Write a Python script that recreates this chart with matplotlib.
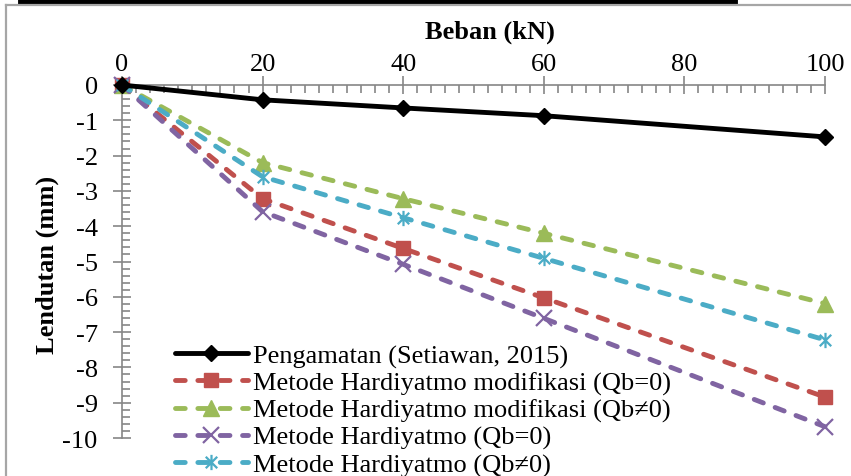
import matplotlib
matplotlib.use("Agg")
import matplotlib.pyplot as plt
from matplotlib.path import Path
from matplotlib.lines import Line2D

plt.rcParams['font.family'] = ['Liberation Serif', 'DejaVu Serif']

# Load (kN) and deflection (mm)
beban = [0, 20, 40, 60, 100]
pengamatan = [0, -0.42, -0.65, -0.87, -1.47]
hardiyatmo_mod_qb0 = [0, -3.22, -4.63, -6.03, -8.84]
hardiyatmo_mod_qbn0 = [0, -2.20, -3.22, -4.20, -6.19]
hardiyatmo_qb0 = [0, -3.59, -5.08, -6.61, -9.68]
hardiyatmo_qbn0 = [0, -2.60, -3.76, -4.91, -7.22]

labels = [
    "Pengamatan (Setiawan, 2015)",
    "Metode Hardiyatmo modifikasi (Qb=0)",
    "Metode Hardiyatmo modifikasi (Qb\u22600)",
    "Metode Hardiyatmo (Qb=0)",
    "Metode Hardiyatmo (Qb\u22600)",
]

x_ticks = [0, 20, 40, 60, 80, 100]
y_ticks = list(range(0, -11, -1))

W, H = 851, 477
FS = 19
fig = plt.figure(figsize=(W / 100, H / 100), dpi=100)

# asterisk marker: vertical bar crossed by an X
star = Path([(0, -1), (0, 1), (-0.75, -0.75), (0.75, 0.75), (-0.75, 0.75), (0.75, -0.75)],
            [Path.MOVETO, Path.LINETO, Path.MOVETO, Path.LINETO, Path.MOVETO, Path.LINETO])

left, right, top, bottom = 122, 825, 86, 439
ax = fig.add_axes([left / W, 1 - bottom / H, (right - left) / W, (bottom - top) / H])
ax.set_xlim(0, 100)
ax.set_ylim(-10, 0)

axis_gray = "#868686"
for s in ['right', 'bottom']:
    ax.spines[s].set_visible(False)
ax.spines['top'].set_color(axis_gray)
ax.spines['left'].set_color(axis_gray)
ax.spines['top'].set_linewidth(1.2)
ax.spines['left'].set_linewidth(1.2)

ax.xaxis.set_ticks_position('top')
ax.set_xticks(x_ticks)
ax.set_xticks(range(0, 101, 2), minor=True)
ax.set_yticks(y_ticks)
ax.set_yticks([v / 5 for v in range(0, -51, -1)], minor=True)
ax.set_xticklabels([str(v) for v in x_ticks])
ax.set_yticklabels([str(v) for v in y_ticks])
ax.tick_params(axis='both', which='major', direction='inout', length=13, width=1.2,
               color=axis_gray, labelsize=FS)
ax.tick_params(axis='both', which='minor', direction='in', length=6, width=1.2,
               color=axis_gray)
ax.tick_params(axis='x', which='major', pad=1)
ax.tick_params(axis='y', which='major', pad=11)

lw = 3.5
dash = (2.0, 2.6)
common = dict(clip_on=False, linewidth=lw)
ax.plot(beban, pengamatan, color='black', marker='D', markersize=8.5,
        solid_capstyle='round', label=labels[0], zorder=6, **common)
ax.plot(beban, hardiyatmo_mod_qb0, color='#C0504D', marker='s', markersize=10,
        dashes=dash, dash_capstyle='round', label=labels[1], zorder=4, **common)
ax.plot(beban, hardiyatmo_mod_qbn0, color='#9BBB59', marker='^', markersize=11,
        dashes=dash, dash_capstyle='round', label=labels[2], zorder=4, **common)
ax.plot(beban, hardiyatmo_qb0, color='#8064A2', marker='x', markersize=11,
        markeredgewidth=1.6, dashes=dash, dash_capstyle='round', label=labels[3],
        zorder=4, **common)
ax.plot(beban, hardiyatmo_qbn0, color='#4BACC6', marker=star, markersize=11,
        markeredgewidth=1.6, dashes=dash, dash_capstyle='round', label=labels[4],
        zorder=5, **common)

leg = ax.legend(loc='upper left', bbox_to_anchor=(175 / W, 1 - 345 / H),
                bbox_transform=fig.transFigure, frameon=False, fontsize=FS,
                handlelength=2.75, handletextpad=0.2, labelspacing=0.125,
                borderpad=0, borderaxespad=0)
leg.set_zorder(10)

fig.text(490 / W, 1 - 32 / H, "Beban (kN)", ha='center', va='center',
         fontsize=FS, fontweight='bold')
fig.text(47 / W, 1 - 265 / H, "Lendutan (mm)", ha='center', va='center',
         rotation=90, fontsize=FS, fontweight='bold')

# chart frame and rule above it
fig.add_artist(Line2D([6 / W, 1], [1 - 6 / H, 1 - 6 / H], color='#A6A6A6',
                      linewidth=1.6, transform=fig.transFigure))
fig.add_artist(Line2D([6 / W, 6 / W], [0, 1 - 6 / H], color='#A6A6A6',
                      linewidth=1.6, transform=fig.transFigure))
fig.add_artist(Line2D([20 / W, 735 / W], [1 - 2 / H, 1 - 2 / H], color='black',
                      linewidth=3.5, transform=fig.transFigure))

fig.savefig("out.png", dpi=100)
